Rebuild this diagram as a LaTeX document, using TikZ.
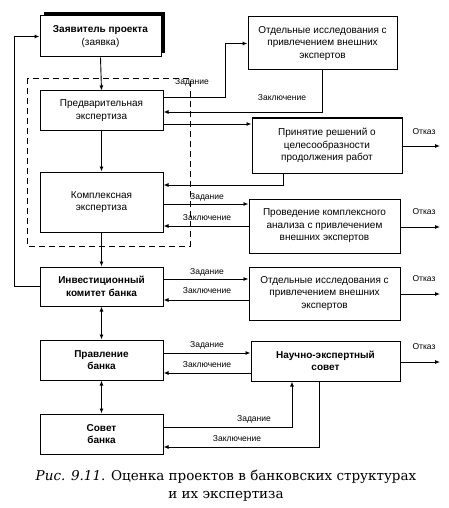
\documentclass[tikz,border=0pt]{standalone}
\usepackage{fontspec}
\setmainfont{Liberation Sans}
\newfontfamily\capfont{DejaVu Serif}
\usetikzlibrary{arrows.meta}
\begin{document}
\begin{tikzpicture}[x=1pt,y=-1pt,
  box/.style={draw, line width=1pt, rectangle, align=center, fill=white,
    font=\fontsize{10}{12.5}\selectfont, inner sep=2pt},
  bbox/.style={box, font=\fontsize{10}{12.5}\selectfont\bfseries},
  arr/.style={line width=0.9pt, -{Latex[length=5pt,width=4pt]}},
  darr/.style={line width=0.9pt, {Latex[length=5pt,width=4pt]}-{Latex[length=5pt,width=4pt]}},
  lbl/.style={font=\fontsize{8.5}{10}\selectfont, inner sep=0pt},
  frame/.style={line width=0.8pt, dash pattern=on 6pt off 4pt}
]
\useasboundingbox (0,0) rectangle (449,508);

% dashed frame
\draw[frame] (27,78) rectangle (190,246);

% left column
\fill[black] (44,12) rectangle (165,53);
\node[box, minimum width=121pt, minimum height=41pt] (zav) at (100.5,36.5)
  {\textbf{Заявитель проекта}\\(заявка)};
\node[box, minimum width=123pt, minimum height=39pt] (pred) at (101.5,110.5)
  {Предварительная\\экспертиза};
\node[box, minimum width=123pt, minimum height=60pt] (kompl) at (101.5,202)
  {Комплексная\\экспертиза};
\node[bbox, minimum width=123pt, minimum height=39pt] (invest) at (101.5,286.5)
  {Инвестиционный\\комитет банка};
\node[bbox, minimum width=123pt, minimum height=40pt] (prav) at (101.5,360)
  {Правление\\банка};
\node[bbox, minimum width=123pt, minimum height=40pt] (sovet) at (101.5,434)
  {Совет\\банка};

% right column
\node[box, minimum width=149pt, minimum height=53pt] (otd1) at (322.5,43.5)
  {Отдельные исследования с\\привлечением внешних\\экспертов};
\node[box, minimum width=150pt, minimum height=55pt] (prin) at (327,145.5)
  {Принятие решений о\\целесообразности\\продолжения работ};
\node[box, minimum width=151pt, minimum height=54pt] (prov) at (324.5,226)
  {Проведение комплексного\\анализа с привлечением\\внешних экспертов};
\node[box, minimum width=151pt, minimum height=53pt] (otd2) at (324.5,293.5)
  {Отдельные исследования с\\привлечением внешних\\экспертов};
\node[bbox, minimum width=149pt, minimum height=40pt] (nauch) at (325.5,361)
  {Научно-экспертный\\совет};

% vertical flow
\draw[arr] (zav.south) -- (pred.north);
\draw[arr] (pred.south) -- (kompl.north);
\draw[arr] (kompl.south) -- (invest.north);
\draw[darr] (invest.south) -- (prav.north);
\draw[darr] (prav.south) -- (sovet.north);

% feedback to applicant
\draw[arr] (invest.west) -- (14,286.5) |- (zav.west);

% preliminary <-> separate studies
\draw[arr] (pred.east |- 0,97) -- (225,97) |- (otd1.west);
\node[lbl] (l1) at (192,82) {Задание};
\draw[arr] (otd1.south) |- (pred.east |- 0,112);
\node[lbl] (l2) at (282,98) {Заключение};

% preliminary -> decision
\draw[arr] (pred.east |- 0,124) -- (prin.west |- 0,124);
\draw[arr] (prin.south -| 283,0) |- (kompl.east |- 0,185);

% complex <-> analysis
\draw[arr] (kompl.east |- 0,204) -- (prov.west |- 0,204);
\node[lbl] (l3) at (207,197) {Задание};
\draw[arr] (prov.west |- 0,226) -- (kompl.east |- 0,226);
\node[lbl] (l4) at (207,218) {Заключение};

% investment committee <-> studies
\draw[arr] (invest.east |- 0,279) -- (otd2.west |- 0,279);
\node[lbl] (l5) at (207,272) {Задание};
\draw[arr] (otd2.west |- 0,300) -- (invest.east |- 0,300);
\node[lbl] (l6) at (207,291) {Заключение};

% board <-> scientific council
\draw[arr] (prav.east |- 0,353) -- (nauch.west |- 0,353);
\node[lbl] (l7) at (207,345) {Задание};
\draw[arr] (nauch.west |- 0,373) -- (prav.east |- 0,373);
\node[lbl] (l8) at (207,365) {Заключение};

% council <-> scientific council
\draw[arr] (sovet.east |- 0,427) -| (nauch.south -| 292,0);
\node[lbl] (l9) at (254,419) {Задание};
\draw[arr] (nauch.south -| 319,0) |- (sovet.east |- 0,447);
\node[lbl] (l10) at (237,439) {Заключение};

% refusals
\coordinate (r1) at (440,146);
\coordinate (r2) at (440,227);
\coordinate (r3) at (440,294);
\coordinate (r4) at (440,362);
\draw[arr] (prin.east |- r1) -- (r1);
\draw[arr] (prov.east |- r2) -- (r2);
\draw[arr] (otd2.east |- r3) -- (r3);
\draw[arr] (nauch.east |- r4) -- (r4);
\node[lbl] (o1) at (424,132) {Отказ};
\node[lbl] (o2) at (424,212) {Отказ};
\node[lbl] (o3) at (424,279) {Отказ};
\node[lbl] (o4) at (424,347) {Отказ};

% caption
\node[align=center, font=\capfont\fontsize{13.5}{18}\selectfont, inner sep=0pt] (cap) at (226,486)
  {\textit{Рис. 9.11.} Оценка проектов в банковских структурах\\и их экспертиза};
\end{tikzpicture}
\end{document}
